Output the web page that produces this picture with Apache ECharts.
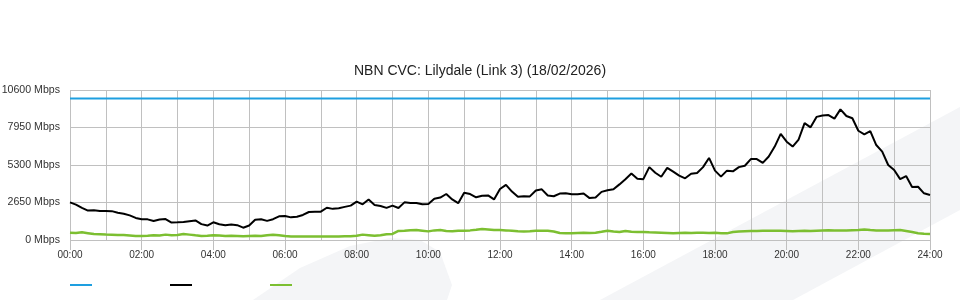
<!DOCTYPE html>
<html>
<head>
<meta charset="utf-8">
<script src="https://cdn.jsdelivr.net/npm/echarts@6/dist/echarts.min.js"></script>
<style>
html,body{margin:0;padding:0;background:#fff;}
#chart{width:960px;height:300px;}
</style>
</head>
<body>
<div id="chart"></div>
<script>
const titleText = 'NBN CVC: Lilydale (Link 3) (18/02/2026)';
const seriesNames = ['Capacity', 'Download', 'Upload'];
const sampleMinutes = 10;
const xTickLabels = ['00:00','02:00','04:00','06:00','08:00','10:00','12:00','14:00','16:00','18:00','20:00','22:00','24:00'];
const yTickLabels = ['0 Mbps','2650 Mbps','5300 Mbps','7950 Mbps','10600 Mbps'];
const yStep = 2650;
const xStep = 120;

const capacityMinutes = [0, 1440];
const capacity = [10000, 10000];

const download = [
 2660, 2500, 2270, 2080, 2100, 2050,
 2050, 2040, 1930, 1860, 1740, 1560,
 1460, 1460, 1340, 1450, 1480, 1230,
 1250, 1280, 1330, 1380, 1120, 1020,
 1250, 1110, 1040, 1100, 1050, 870,
 1020, 1430, 1460, 1350, 1470, 1670,
 1700, 1600, 1640, 1770, 1980, 2000,
 2000, 2280, 2200, 2240, 2340, 2430,
 2710, 2520, 2860, 2480, 2400, 2270,
 2430, 2260, 2660, 2620, 2610, 2520,
 2540, 2920, 3000, 3250, 2870, 2600,
 3340, 3250, 3020, 3130, 3150, 2870,
 3600, 3900, 3420, 3050, 3100, 3080,
 3500, 3580, 3150, 3090, 3280, 3300,
 3230, 3230, 3290, 2960, 3000, 3400,
 3510, 3580, 3930, 4300, 4700, 4330,
 4300, 5150, 4750, 4470, 5100, 4830,
 4550, 4360, 4680, 4740, 5150, 5800,
 4900, 4480, 4900, 4850, 5150, 5250,
 5720, 5720, 5450, 5900, 6600, 7500,
 6950, 6600, 7100, 8260, 7960, 8700,
 8800, 8830, 8580, 9230, 8760, 8600,
 7720, 7470, 7700, 6710, 6250, 5300,
 4950, 4300, 4520, 3750, 3760, 3300,
 3180
];

const upload = [
 520, 500, 540, 480, 420, 400,
 380, 370, 360, 350, 320, 290,
 280, 300, 330, 320, 380, 340,
 360, 420, 380, 330, 290, 300,
 340, 320, 290, 300, 290, 260,
 280, 300, 280, 330, 370, 330,
 280, 250, 240, 250, 240, 240,
 250, 240, 250, 250, 260, 270,
 300, 380, 340, 300, 330, 400,
 430, 640, 660, 690, 700, 660,
 610, 680, 700, 640, 620, 650,
 660, 680, 720, 770, 740, 700,
 700, 680, 650, 620, 600, 610,
 650, 660, 650, 600, 500, 480,
 480, 500, 510, 500, 520, 580,
 660, 600, 560, 640, 580, 560,
 560, 540, 530, 520, 500, 470,
 500, 520, 500, 520, 510, 500,
 520, 480, 470, 560, 600, 620,
 640, 640, 650, 660, 660, 650,
 640, 610, 640, 660, 640, 660,
 680, 690, 680, 670, 680, 690,
 700, 740, 700, 680, 680, 680,
 690, 700, 640, 560, 480, 440,
 420
];

const colors = ['#1e9fe0', '#000000', '#7cbf31'];
const gridColor = '#c0c0c0';
const fontFamily = '"Liberation Sans", Arial, sans-serif';

function toPairs(values) {
  return values.map((v, i) => [i * sampleMinutes, v]);
}

const chart = echarts.init(document.getElementById('chart'), null, {renderer: 'canvas'});

const legendBase = {
  top: 284, padding: 0, itemWidth: 22, itemHeight: 2, icon: 'rect',
  formatter: () => '', selectedMode: false,
  textStyle: {fontSize: 1}
};

chart.setOption({
  animation: false,
  backgroundColor: '#ffffff',
  color: colors,
  title: {
    text: titleText, left: 'center', top: 64, padding: 0,
    textStyle: {fontFamily, fontSize: 14, fontWeight: 'normal', color: '#222'}
  },
  legend: [
    Object.assign({}, legendBase, {left: 70, data: [seriesNames[0]]}),
    Object.assign({}, legendBase, {left: 170, data: [seriesNames[1]]}),
    Object.assign({}, legendBase, {left: 270, data: [seriesNames[2]]})
  ],
  graphic: [
    {type: 'polygon', silent: true, z: -10,
     shape: {points: [[253,300],[300,268],[350,246],[390,238],[420,240],[440,252],[452,285],[447,300]]},
     style: {fill: '#f4f5f7'}},
    {type: 'polygon', silent: true, z: -10,
     shape: {points: [[600,300],[960,107],[960,210],[793,300]]},
     style: {fill: '#f4f5f7'}}
  ],
  grid: {left: 70, right: 30, top: 90, bottom: 60, containLabel: false, outerBoundsMode: 'none'},
  xAxis: {
    type: 'value', min: 0, max: 1440, interval: xStep,
    axisLine: {show: false},
    axisTick: {show: true, length: 10, lineStyle: {color: gridColor, width: 1}},
    minorTick: {show: false, splitNumber: 2},
    minorSplitLine: {show: true, lineStyle: {color: gridColor, width: 1}},
    splitLine: {show: true, lineStyle: {color: gridColor, width: 1}},
    axisLabel: {
      margin: 10, fontFamily, fontSize: 10, color: '#333',
      formatter: v => xTickLabels[Math.round(v / xStep)] || ''
    }
  },
  yAxis: {
    type: 'value', min: 0, max: 10600, interval: yStep,
    axisLine: {show: false},
    axisTick: {show: false},
    splitLine: {show: true, lineStyle: {color: gridColor, width: 1}},
    axisLabel: {
      margin: 10, fontFamily, fontSize: 10.6, color: '#333',
      formatter: v => yTickLabels[Math.round(v / yStep)] || ''
    }
  },
  series: [
    {name: seriesNames[0], type: 'line', showSymbol: false, symbol: 'none',
     data: capacityMinutes.map((m, i) => [m, capacity[i]]),
     lineStyle: {width: 2, color: colors[0]}, itemStyle: {color: colors[0]}, z: 3},
    {name: seriesNames[1], type: 'line', showSymbol: false, symbol: 'none',
     data: toPairs(download),
     lineStyle: {width: 2, color: colors[1]}, itemStyle: {color: colors[1]}, z: 4},
    {name: seriesNames[2], type: 'line', showSymbol: false, symbol: 'none',
     data: toPairs(upload),
     lineStyle: {width: 2.5, color: colors[2]}, itemStyle: {color: colors[2]}, z: 3}
  ]
});
</script>
</body>
</html>
